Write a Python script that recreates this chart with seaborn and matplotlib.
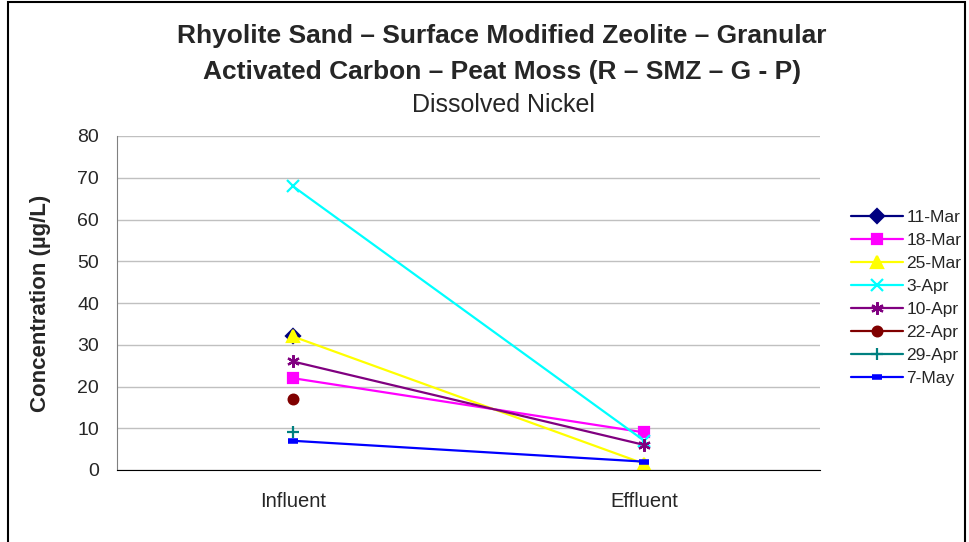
import matplotlib.pyplot as plt
import numpy as np
import pandas as pd
import seaborn as sns
from matplotlib.patches import Rectangle

# data
stages = ["Influent", "Effluent"]
dates = ["11-Mar", "18-Mar", "25-Mar", "3-Apr", "10-Apr", "22-Apr", "29-Apr", "7-May"]
influent = [32, 22, 32, 68, 26, 17, 9, 7]
effluent = [np.nan, 9, 1.5, 7, 6, np.nan, np.nan, 2]

colors = ["#000080", "#FF00FF", "#FFFF00", "#00FFFF", "#800080", "#800000", "#008080", "#0000FF"]
markers = ["D", "s", "^", "x", (6, 2, 0), "o", "+", "_"]
msizes = [7, 7, 8, 9, 9, 7, 9, 7]

df = pd.DataFrame({"date": dates, "Influent": influent, "Effluent": effluent})
long_df = df.melt(id_vars="date", var_name="stage", value_name="conc")
long_df["pos"] = long_df["stage"].map({s: i for i, s in enumerate(stages)})

sns.set_style("white")
plt.rcParams["font.family"] = ["Liberation Sans", "DejaVu Sans"]

fig = plt.figure(figsize=(9.7, 5.42), dpi=100)
ax = fig.add_axes([117 / 970, 72 / 542, 703 / 970, 334 / 542])

for d, c, m, ms in zip(dates, colors, markers, msizes):
    sub = long_df[long_df["date"] == d]
    mew = 4 if m == "_" else 1.6
    sns.lineplot(data=sub, x="pos", y="conc", color=c, marker=m, markersize=ms,
                 markeredgecolor=c, markeredgewidth=mew, linewidth=1.6,
                 label=d, ax=ax, legend=False)

ax.set_xlim(-0.5, 1.5)
ax.set_ylim(0, 80)
ax.set_yticks(range(0, 81, 10))
ax.set_xticks([0, 1])
ax.set_xticklabels(stages)
ax.set_xticks([-0.5, 0.5, 1.5], minor=True)
ax.tick_params(axis="x", which="major", length=0, pad=16, labelsize=14.5)
ax.tick_params(axis="x", which="minor", length=5, width=1, color="#808080", direction="out")
ax.tick_params(axis="y", length=5, width=1, color="#808080", direction="out", pad=8, labelsize=14)
ax.yaxis.grid(True, color="#C0C0C0", linewidth=1)
ax.set_axisbelow(True)
for s in ["top", "right"]:
    ax.spines[s].set_visible(False)
ax.spines["left"].set_color("#808080")
ax.spines["bottom"].set_color("black")
ax.set_xlabel("")
ax.set_ylabel("Concentration (µg/L)", fontsize=16, fontweight="bold")
ax.yaxis.set_label_coords(-(117 - 51) / 703, 0.5)

fig.text(0.5175, 1 - 36 / 542, "Rhyolite Sand – Surface Modified Zeolite – Granular",
         ha="center", va="center", fontsize=19, fontweight="bold")
fig.text(0.5175, 1 - 72 / 542, "Activated Carbon – Peat Moss (R – SMZ – G - P)",
         ha="center", va="center", fontsize=19, fontweight="bold")
fig.text(503 / 970, 1 - 105 / 542, "Dissolved Nickel", ha="center", va="center", fontsize=18)

handles, labels = ax.get_legend_handles_labels()
fig.legend(handles, labels, loc="upper left", bbox_to_anchor=(851 / 970, 1 - 210 / 542),
           frameon=False, fontsize=12.5, handlelength=3.0, handletextpad=0.2,
           labelspacing=0.45, borderpad=0, borderaxespad=0)

fig.patches.append(Rectangle((8 / 970, -0.05), 957 / 970, 1.05 - 1.5 / 542, transform=fig.transFigure,
                             fill=False, edgecolor="black", linewidth=1.5))

fig.savefig("out.png", dpi=100)
